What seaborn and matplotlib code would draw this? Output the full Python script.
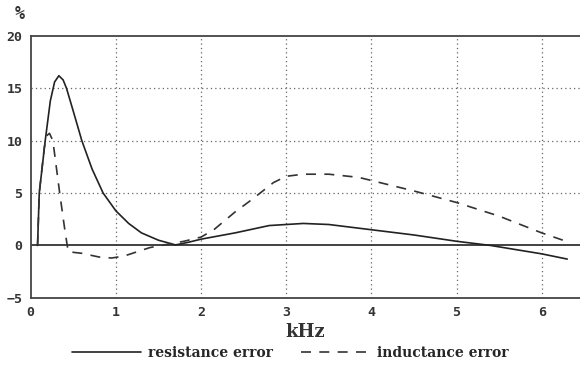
import matplotlib
matplotlib.use("Agg")

import matplotlib.pyplot as plt
import pandas as pd
import seaborn as sns

# resistance error (%) vs frequency (kHz)
res_khz = [0.08, 0.10, 0.17, 0.23, 0.28, 0.33, 0.38, 0.42, 0.50, 0.60, 0.72,
           0.85, 1.00, 1.15, 1.30, 1.50, 1.70, 1.85, 2.00, 2.40, 2.80, 3.00,
           3.20, 3.50, 4.00, 4.50, 5.00, 5.40, 5.70, 6.00, 6.30]
res_err = [0.0, 5.0, 10.0, 13.8, 15.6, 16.2, 15.8, 15.0, 12.8, 10.0, 7.3,
           5.0, 3.3, 2.1, 1.2, 0.5, 0.05, 0.3, 0.6, 1.2, 1.9, 2.0,
           2.1, 2.0, 1.5, 1.0, 0.4, 0.0, -0.4, -0.8, -1.3]

# inductance error (%) vs frequency (kHz)
ind_khz = [0.08, 0.10, 0.16, 0.19, 0.22, 0.26, 0.30, 0.34, 0.40, 0.44, 0.60,
           0.80, 0.95, 1.10, 1.25, 1.40, 1.60, 1.80, 2.00, 2.15, 2.40, 2.60,
           2.85, 3.00, 3.20, 3.50, 3.85, 4.00, 4.50, 5.00, 5.50, 6.00, 6.25]
ind_err = [0.0, 5.0, 9.4, 10.5, 10.7, 10.0, 7.5, 5.0, 1.5, -0.6, -0.75,
           -1.1, -1.2, -1.0, -0.6, -0.2, 0.1, 0.4, 0.8, 1.5, 3.2, 4.4,
           6.0, 6.6, 6.8, 6.8, 6.5, 6.2, 5.2, 4.1, 2.8, 1.2, 0.5]

x_ticks = [0, 1, 2, 3, 4, 5, 6]
y_ticks = [-5, 0, 5, 10, 15, 20]

sns.set_style("white")
plt.rcParams["font.family"] = ["DejaVu Sans Mono", "DejaVu Sans"]

res_df = pd.DataFrame({"kHz": res_khz, "err": res_err})
ind_df = pd.DataFrame({"kHz": ind_khz, "err": ind_err})

fig = plt.figure(figsize=(5.8, 3.7), dpi=100)
ax = fig.add_axes([0.053, 0.195, 0.947, 0.708])

# dotted grid, solid zero line
for xv in x_ticks[1:]:
    ax.axvline(xv, color="#666666", linestyle=(0, (1, 2.5)), linewidth=0.9, zorder=1)
for yv in y_ticks[2:-1]:
    ax.axhline(yv, color="#666666", linestyle=(0, (1, 2.5)), linewidth=0.9, zorder=1)
ax.axhline(0, color="#333333", linewidth=1.3, zorder=2)

sns.lineplot(data=res_df, x="kHz", y="err", ax=ax, color="#222222",
             linewidth=1.2, label="resistance error", zorder=3)
sns.lineplot(data=ind_df, x="kHz", y="err", ax=ax, color="#333333",
             linewidth=1.2, linestyle=(0, (6, 5)), label="inductance error",
             zorder=3)

ax.set_xlim(0, 6.45)
ax.set_ylim(-5, 20)
ax.set_xticks(x_ticks)
ax.set_yticks(y_ticks)
ax.set_xticklabels([str(t) for t in x_ticks], fontsize=9.5, fontweight="bold",
                   color="#333333")
ax.set_yticklabels([f"{t:d}".replace("-", "\u2212") for t in y_ticks],
                   fontsize=9.5, fontweight="bold", color="#333333")
ax.tick_params(axis="both", length=0, pad=6)
ax.set_xlabel("kHz", fontsize=13, fontweight="bold", family="DejaVu Serif",
              color="#333333", labelpad=3)
ax.set_ylabel("")

for side in ["top", "bottom", "left"]:
    ax.spines[side].set_color("#444444")
    ax.spines[side].set_linewidth(1.3)
ax.spines["right"].set_visible(False)

fig.text(0.025, 0.962, "%", fontsize=12, fontweight="bold", color="#333333",
         ha="left", va="center")

ax.get_legend().remove()
handles, labels = ax.get_legend_handles_labels()
fig.legend(handles, labels, loc="center", bbox_to_anchor=(0.5, 0.045), ncol=2,
           frameon=False, handlelength=5, columnspacing=2.0, handletextpad=0.5,
           prop={"family": "DejaVu Serif", "weight": "bold", "size": 10})

fig.savefig("out.png", dpi=100)
